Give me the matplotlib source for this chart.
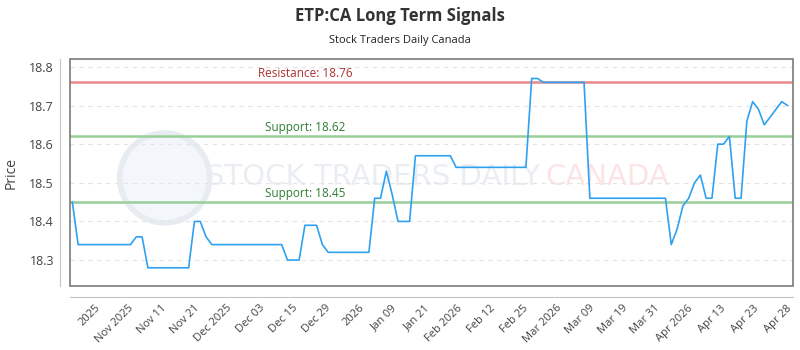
import numpy as np
import matplotlib
matplotlib.use('Agg')
import matplotlib.pyplot as plt
from matplotlib.patches import Rectangle, Ellipse

plt.rcParams['font.family'] = ['Open Sans', 'DejaVu Sans']

prices = [
    18.45,
    18.34, 18.34, 18.34, 18.34, 18.34, 18.34, 18.34, 18.34, 18.34, 18.34,
    18.36, 18.36,
    18.28, 18.28, 18.28, 18.28, 18.28, 18.28, 18.28, 18.28,
    18.40, 18.40, 18.36,
    18.34, 18.34, 18.34, 18.34, 18.34, 18.34, 18.34, 18.34, 18.34, 18.34,
    18.34, 18.34, 18.34,
    18.30, 18.30, 18.30,
    18.39, 18.39, 18.39,
    18.34,
    18.32, 18.32, 18.32, 18.32, 18.32, 18.32, 18.32, 18.32,
    18.46, 18.46, 18.53, 18.47,
    18.40, 18.40, 18.40,
    18.57, 18.57, 18.57, 18.57, 18.57, 18.57, 18.57,
    18.54, 18.54, 18.54, 18.54, 18.54, 18.54, 18.54, 18.54, 18.54, 18.54,
    18.54, 18.54, 18.54,
    18.77, 18.77,
    18.76, 18.76, 18.76, 18.76, 18.76, 18.76, 18.76, 18.76,
    18.46, 18.46, 18.46, 18.46, 18.46, 18.46, 18.46, 18.46, 18.46, 18.46,
    18.46, 18.46, 18.46, 18.46,
    18.34, 18.38, 18.44, 18.46, 18.50, 18.52, 18.46, 18.46,
    18.60, 18.60, 18.62, 18.46, 18.46,
    18.66, 18.71, 18.69, 18.65, 18.67, 18.69, 18.71, 18.70,
]

tick_labels = ['2025', 'Nov 2025', 'Nov 11', 'Nov 21', 'Dec 2025', 'Dec 03',
               'Dec 15', 'Dec 29', '2026', 'Jan 09', 'Jan 21', 'Feb 2026',
               'Feb 12', 'Feb 25', 'Mar 2026', 'Mar 09', 'Mar 19', 'Mar 31',
               'Apr 2026', 'Apr 13', 'Apr 23', 'Apr 28']

resistance = 18.76
supports = [18.62, 18.45]


def draw_level(ax, value, text, line_color, text_color, x_text):
    ax.axhline(value, color=line_color, lw=1.8, zorder=2)
    ax.text(x_text, value + 0.006, text, color=text_color, fontsize=8.5,
            ha='center', va='bottom', zorder=3)


def main():
    fig = plt.figure(figsize=(8, 3.5), dpi=100)
    ax = fig.add_axes([0.0875, 0.183, 0.9035, 0.648])

    # spines first: moving them resets the ticks
    for side in ['top', 'right']:
        ax.spines[side].set_visible(False)
    ax.spines['left'].set_position(('outward', 7.5))
    ax.spines['bottom'].set_position(('outward', 8))
    ax.spines['left'].set_color('#c4c4c4')
    ax.spines['bottom'].set_color('#c4c4c4')

    x = np.arange(len(prices))

    # watermark
    ax.add_patch(Ellipse((0.131, 0.476), 0.1245, 0.396, transform=ax.transAxes,
                         facecolor='#f3f6fa', edgecolor='#e7ecf3', lw=4,
                         zorder=0))
    ax.text(0.188, 0.48, 'STOCK TRADERS DAILY', transform=ax.transAxes,
            fontsize=21, color='#eaeef3', ha='left', va='center',
            family=['DejaVu Sans'], zorder=0)
    ax.text(0.658, 0.48, 'CANADA', transform=ax.transAxes,
            fontsize=21, color='#fce4e4', ha='left', va='center',
            family=['DejaVu Sans'], zorder=0)

    draw_level(ax, resistance, f'Resistance: {resistance:.2f}',
               '#e88a8a', '#b03030', 40)
    for s in supports:
        draw_level(ax, s, f'Support: {s:.2f}', '#98cf98', '#2e7d32', 40)

    ax.plot(x, prices, color='#2ea1f0', lw=1.2, zorder=4)

    ax.set_xlim(-0.4, 123.9)
    ax.set_ylim(18.233, 18.82)
    ax.set_yticks([18.3, 18.4, 18.5, 18.6, 18.7, 18.8])
    ax.yaxis.grid(True, ls=(0, (4, 4)), color='#e4e4e4', lw=0.8)
    ax.set_axisbelow(True)

    tick_pos = np.linspace(3.9, 122.8, len(tick_labels))
    ax.set_xticks(tick_pos)
    ax.set_xticklabels(tick_labels, fontsize=8, color='#444444')
    ax.tick_params(axis='y', length=0, pad=4, labelsize=9, labelcolor='#444444')
    ax.tick_params(axis='x', length=0, pad=4, labelrotation=45)
    for lab in ax.get_xticklabels():
        lab.set_ha('right')
        lab.set_rotation_mode('anchor')

    ax.add_patch(Rectangle((0, 0), 1, 1, transform=ax.transAxes, fill=False,
                           edgecolor='#7a7a7a', lw=1.2, clip_on=False, zorder=5))

    ax.set_ylabel('Price', fontsize=10, color='#444444', labelpad=8)

    fig.text(0.5, 0.955, 'ETP:CA Long Term Signals', ha='center', va='center',
             fontsize=12, fontweight='bold', color='#333333')
    fig.text(0.5, 0.885, 'Stock Traders Daily Canada', ha='center', va='center',
             fontsize=8, color='#222222')

    fig.savefig('out.png', dpi=100, facecolor='white')


if __name__ == '__main__':
    main()
